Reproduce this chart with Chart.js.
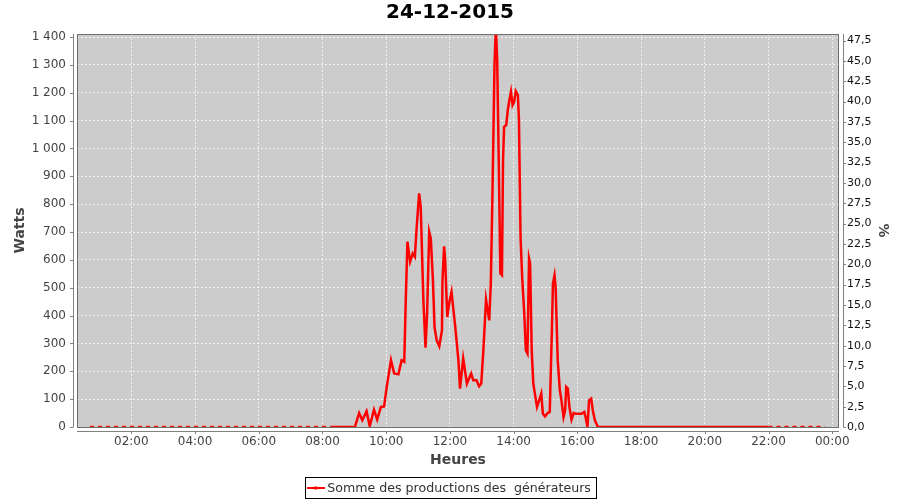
<!DOCTYPE html>
<html>
<head>
<meta charset="utf-8">
<script src="https://cdn.jsdelivr.net/npm/chart.js@4/dist/chart.umd.min.js"></script>
<style>
html,body{margin:0;padding:0;background:#fff;}
#wrap{width:900px;height:500px;}
</style>
</head>
<body>
<div id="wrap"><canvas id="c" width="900" height="500"></canvas></div>
<script>
// ---------- data ----------
const chartTitle = '24-12-2015';
const seriesName = 'Somme des productions des  générateurs';
const xTitle = 'Heures';
const yTitle = 'Watts';
const y2Title = '%';

const times = [
  '00:42','08:15','09:01','09:09','09:15','09:23','09:29','09:37','09:43','09:50','09:56',
  '10:01','10:09','10:15','10:23','10:29','10:34','10:37','10:40','10:45','10:50','10:54','10:57',
  '11:02','11:05','11:10','11:14','11:17','11:21','11:24','11:28','11:31','11:35','11:40','11:45',
  '11:46','11:49','11:51','11:55','11:59','12:03','12:06','12:10','12:16','12:19','12:25','12:32',
  '12:40','12:44','12:50','12:55','12:59','13:03','13:08','13:14','13:17','13:20','13:24','13:26',
  '13:27','13:29','13:32','13:35','13:38','13:40','13:42','13:46','13:49','13:52','13:55','13:58',
  '14:01','14:04','14:08','14:10','14:13','14:16','14:20','14:23','14:26','14:29','14:31','14:34',
  '14:37','14:40','14:44','14:48','14:52','14:55','14:59','15:04','15:08','15:12','15:14','15:17',
  '15:19','15:23','15:27','15:30','15:34','15:37','15:39','15:42','15:45','15:49','15:53','15:57',
  '16:03','16:08','16:13','16:16','16:19','16:22','16:26','16:29','16:33','16:38','16:40','22:00','23:46'
];
const watts = [
  0,0,0,50,24,57,3,62,27,72,74,
  144,240,192,189,240,234,467,665,593,623,611,707,
  839,790,455,285,407,701,677,527,359,312,290,347,
  527,649,599,395,449,485,431,360,240,138,246,156,
  192,168,168,146,156,276,458,383,515,826,1306,1410,
  1410,1318,947,551,545,958,1078,1084,1138,1174,1204,1156,
  1168,1206,1192,1102,683,539,407,276,264,605,587,276,
  156,120,72,96,120,48,38,50,54,347,515,545,
  503,240,132,96,36,60,144,138,72,27,50,48,
  48,48,54,31,0,96,102,60,24,3,0,0,0
];

const hourTicks = [2,4,6,8,10,12,14,16,18,20,22,24];
const wattTicks = [0,100,200,300,400,500,600,700,800,900,1000,1100,1200,1300,1400];
const percentTicks = [0,2.5,5,7.5,10,12.5,15,17.5,20,22.5,25,27.5,30,32.5,35,37.5,40,42.5,45,47.5];
const hourRange = [0.295, 24.212];
const wattMax = 1411;
const percentMax = 48.31;

// ---------- helpers ----------
const FONT = "'DejaVu Sans', 'Liberation Sans', sans-serif";
const toHours = t => { const p = t.split(':').map(Number); return p[0] + p[1] / 60; };
const points = times.map((t, i) => ({x: toHours(t), y: watts[i]}));
const fmtThousands = v => String(v).replace(/\B(?=(\d{3})+(?!\d))/g, ' ');
const setTicks = arr => scale => { scale.ticks = arr.map(v => ({value: v})); };

const frame = {
  id: 'frame',
  beforeDraw(chart) {
    const {ctx, chartArea: a} = chart;
    ctx.save();
    ctx.fillStyle = '#ffffff';
    ctx.fillRect(0, 0, chart.width, chart.height);
    ctx.fillStyle = '#cccccc';
    ctx.fillRect(a.left, a.top, a.right - a.left, a.bottom - a.top);
    ctx.restore();
  },
  afterDatasetsDraw(chart) {
    const {ctx, chartArea: a, scales} = chart;
    ctx.save();
    ctx.strokeStyle = '#6e6e6e';
    ctx.lineWidth = 1;
    ctx.strokeRect(a.left + 0.5, a.top + 0.5, a.right - a.left - 1, a.bottom - a.top);
    ctx.strokeStyle = '#808080';
    ctx.beginPath();
    const lx = a.left - 3.5, rx = a.right + 4.5, by = a.bottom + 4.5;
    ctx.moveTo(lx, a.top); ctx.lineTo(lx, a.bottom);
    ctx.moveTo(rx, a.top); ctx.lineTo(rx, a.bottom);
    ctx.moveTo(a.left, by); ctx.lineTo(a.right, by);
    scales.y.ticks.forEach(t => {
      const p = Math.round(scales.y.getPixelForValue(t.value)) + 0.5;
      ctx.moveTo(lx - 3.5, p); ctx.lineTo(lx, p);
    });
    scales.y2.ticks.forEach(t => {
      const p = Math.round(scales.y2.getPixelForValue(t.value)) + 0.5;
      ctx.moveTo(rx, p); ctx.lineTo(rx + 2.5, p);
    });
    scales.x.ticks.forEach(t => {
      const p = Math.round(scales.x.getPixelForValue(t.value)) + 0.5;
      ctx.moveTo(p, by); ctx.lineTo(p, by + 2.5);
    });
    ctx.stroke();
    ctx.restore();
  },
  afterDraw(chart) {
    const {ctx} = chart;
    const ds = chart.data.datasets[0];
    ctx.save();
    ctx.font = '12.6px ' + FONT;
    const tw = ctx.measureText(ds.label).width;
    const bw = Math.round(tw + 27);
    const left = Math.round(chart.width / 2 - bw / 2);
    const top = chart.height - 23;
    const h = 21;
    ctx.strokeStyle = '#000';
    ctx.lineWidth = 1;
    ctx.strokeRect(left + 0.5, top + 0.5, bw, h);
    ctx.strokeStyle = ds.borderColor;
    ctx.lineWidth = 2;
    ctx.beginPath();
    ctx.moveTo(left + 2, top + 11);
    ctx.lineTo(left + 20, top + 11);
    ctx.stroke();
    ctx.fillStyle = ds.borderColor;
    ctx.fillRect(left + 9, top + 9.5, 3, 3);
    ctx.fillStyle = '#333';
    ctx.textBaseline = 'middle';
    ctx.textAlign = 'left';
    ctx.fillText(ds.label, left + 22.3, top + 11.5);
    ctx.restore();
  }
};

const gridCommon = {color: 'rgba(255,255,255,0.75)', lineWidth: 1, drawTicks: false};
const borderCommon = {display: false, dash: [2, 2]};

new Chart(document.getElementById('c'), {
  type: 'line',
  data: {
    datasets: [{
      label: seriesName,
      data: points,
      borderColor: '#ff0000',
      backgroundColor: '#ff0000',
      borderWidth: 2.5,
      pointRadius: 0,
      tension: 0,
      fill: false,
      clip: 0,
      xAxisID: 'x',
      yAxisID: 'y',
      segment: {
        borderDash: c => (c.p0.parsed.y === 0 && c.p1.parsed.y === 0 &&
          (c.p1.parsed.x <= 8.5 || c.p0.parsed.x >= 21.9)) ? [4, 4] : undefined
      }
    }]
  },
  options: {
    responsive: false,
    animation: false,
    devicePixelRatio: 1,
    layout: {padding: {left: 0, right: 0, top: 0, bottom: 28}},
    plugins: {
      legend: {display: false},
      tooltip: {enabled: false},
      title: {
        display: true, text: chartTitle, color: '#000',
        font: {family: FONT, size: 20, weight: 'bold'},
        padding: {top: 1, bottom: 9}
      }
    },
    scales: {
      x: {
        type: 'linear', position: 'bottom',
        min: hourRange[0], max: hourRange[1],
        afterBuildTicks: setTicks(hourTicks),
        afterFit: s => { s.height = 45; },
        ticks: {
          autoSkip: false, maxRotation: 0, minRotation: 0, padding: 7.5,
          color: '#444', font: {family: FONT, size: 12},
          callback: v => String(v % 24).padStart(2, '0') + ':00'
        },
        grid: gridCommon,
        border: borderCommon,
        title: {display: true, text: xTitle, color: '#444',
          font: {family: FONT, size: 14, weight: 'bold'}, padding: {top: 0, bottom: 3.6}}
      },
      y: {
        type: 'linear', position: 'left',
        min: 0, max: wattMax,
        afterBuildTicks: setTicks(wattTicks),
        afterFit: s => { s.width = 77; },
        ticks: {
          autoSkip: false, padding: 11, color: '#444',
          font: {family: FONT, size: 12},
          callback: v => fmtThousands(v)
        },
        grid: gridCommon,
        border: borderCommon,
        title: {display: true, text: yTitle, color: '#444',
          font: {family: FONT, size: 14, weight: 'bold'}, padding: {top: 12.2, bottom: 0}}
      },
      y2: {
        type: 'linear', position: 'right',
        min: 0, max: percentMax,
        afterBuildTicks: setTicks(percentTicks),
        afterFit: s => { s.width = 61; },
        ticks: {
          autoSkip: false, padding: 8, color: '#111',
          font: {family: FONT, size: 11},
          callback: v => v.toFixed(1).replace('.', ',')
        },
        grid: {display: false, drawTicks: false},
        border: {display: false},
        title: {display: true, text: y2Title, color: '#444',
          font: {family: FONT, size: 14, weight: 'bold'}, padding: {top: 8.6, bottom: 0}}
      }
    }
  },
  plugins: [frame]
});
</script>
</body>
</html>
